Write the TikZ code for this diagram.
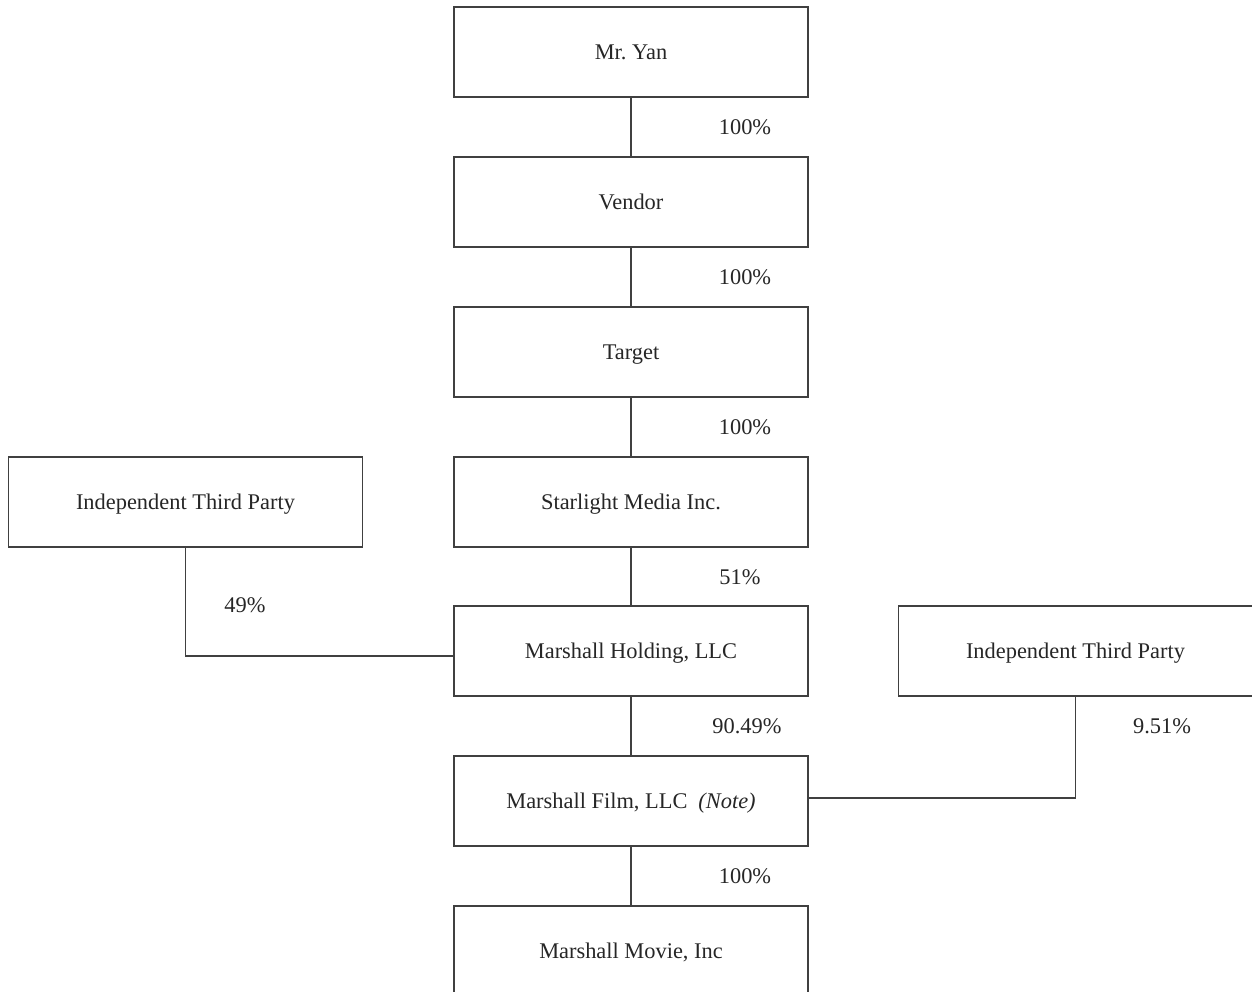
\documentclass[tikz,border=0pt]{standalone}
\usepackage{fontspec}
\setmainfont{Liberation Serif}
\begin{document}
\begin{tikzpicture}[x=0.5pt,y=-0.5pt,inner sep=0pt,outer sep=0pt,line width=0.55pt,draw=black!75,
entity/.style={draw,rectangle,minimum width=177pt,minimum height=45pt,text=black!85,
  text height=8.6pt,text depth=1pt,font=\fontsize{11.2}{13}\selectfont},
share/.style={text=black!85,font=\fontsize{11.2}{13}\selectfont}]
\useasboundingbox (0,0) rectangle (1252,991);
\draw (631,52) node[entity] (yan) {Mr.\ Yan};
\draw (631,202) node[entity] (vendor) {Vendor};
\draw (631,352) node[entity] (target) {Target};
\draw (631,502) node[entity] (starlight) {Starlight Media Inc.};
\draw (631,651) node[entity] (holding) {Marshall Holding, LLC};
\draw (631,801) node[entity] (film) {Marshall Film, LLC\hspace{5.5pt}\textit{(Note)}};
\draw (631,951) node[entity] (movie) {Marshall Movie, Inc};
\draw (185.5,502) node[entity] (thirdA) {Independent Third Party};
\draw (1075.5,651) node[entity] (thirdB) {Independent Third Party};

\draw (745,127) node[share] (pYan) {100\%};
\draw (745,277) node[share] (pVendor) {100\%};
\draw (745,427) node[share] (pTarget) {100\%};
\draw (740,577) node[share] (pStar) {51\%};
\draw (747,726) node[share] (pHold) {90.49\%};
\draw (745,876) node[share] (pFilm) {100\%};
\draw (245,605) node[share] (pThirdA) {49\%};
\draw (1162,726) node[share] (pThirdB) {9.51\%};

\draw (yan) -- (vendor);
\draw (vendor) -- (target);
\draw (target) -- (starlight);
\draw (starlight) -- (holding);
\draw (holding) -- (film);
\draw (film) -- (movie);
\draw (thirdA.south) |- ([yshift=-2.5pt]holding.west);
\draw (thirdB.south) |- ([yshift=1.5pt]film.east);
\end{tikzpicture}
\end{document}
